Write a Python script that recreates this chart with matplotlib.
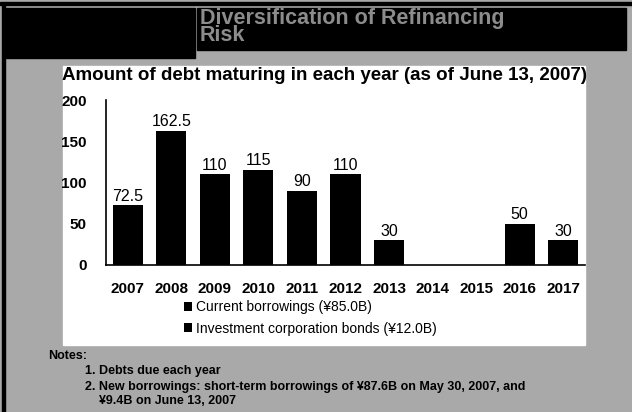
import numpy as np
import matplotlib
matplotlib.use('Agg')
import matplotlib.pyplot as plt
from matplotlib.patches import Rectangle

plt.rcParams['font.family'] = ['Liberation Sans Narrow', 'Liberation Sans', 'DejaVu Sans']

# --- dados (amount, 100 millions of yen) ---
anos = ['2007', '2008', '2009', '2010', '2011', '2012', '2013', '2014', '2015', '2016', '2017']
current_borrowings = [72.5, 162.5, 110, 115, 90, 110, 30, 0, 0, 50, 30]
investment_bonds = [0, 0, 0, 0, 0, 0, 0, 0, 0, 0, 0]
y_ticks = [0, 50, 100, 150, 200]

W, H = 632, 412

def caixa(x0, y0, x1, y1, cor):
    # retangulo em pixels (origem no topo) -> fracao da figura
    r = Rectangle((x0 / W, 1 - y1 / H), (x1 - x0) / W, (y1 - y0) / H,
                  transform=fig.transFigure, color=cor, zorder=-5)
    fig.add_artist(r)

fig = plt.figure(figsize=(W / 100, H / 100), dpi=100)
fig.patch.set_facecolor('#a9a9a9')

# cabecalho preto
caixa(0, 2, W, 5, 'black')
caixa(5, 8, 195, 58, 'black')
caixa(197, 8, 626, 50, 'black')
caixa(2, 5, 5, H, 'black')
fig.text(200 / W, 1 - 27 / H, 'Diversification of Refinancing\nRisk', color='#8c8c8c',
         fontsize=15.5, fontweight='bold', va='center', ha='left', linespacing=0.8)

# painel branco
caixa(63, 66, 585, 345, 'white')
fig.text(325 / W, 1 - 75 / H, 'Amount of debt maturing in each year (as of June 13, 2007)',
         fontsize=13.5, fontweight='bold', ha='center', va='center')

ax = fig.add_axes((106 / W, 1 - 265 / H, 479 / W, 165 / H))
ax.set_facecolor('none')
x = np.arange(len(anos))
b1 = ax.bar(x, current_borrowings, width=0.69, color='black', label='Current borrowings (¥85.0B)')
b2 = ax.bar(x, investment_bonds, width=0.69, bottom=current_borrowings, color='black',
            label='Investment corporation bonds (¥12.0B)')

for xi, v in zip(x, current_borrowings):
    if v > 0:
        ax.text(xi, v + 2, f'{v:g}', ha='center', va='bottom', fontsize=11.5)

ax.set_xlim(-0.5, len(anos) - 0.5)
ax.set_ylim(0, 200)
ax.set_yticks(y_ticks)
ax.set_xticks(x)
ax.set_xticklabels(anos)
ax.tick_params(axis='both', length=0, labelsize=11)
ax.tick_params(axis='y', pad=14)
ax.tick_params(axis='x', pad=12)
for lab in ax.get_xticklabels() + ax.get_yticklabels():
    lab.set_fontweight('bold')
ax.spines['top'].set_visible(False)
ax.spines['right'].set_visible(False)
ax.spines['left'].set_linewidth(1.2)
ax.spines['bottom'].set_linewidth(1.2)

fig.legend(handles=[b1, b2], loc='upper left', bbox_to_anchor=(184 / W, 1 - 300 / H),
           frameon=False, fontsize=10, handlelength=0.6, handleheight=0.6,
           handletextpad=0.3, labelspacing=0.55, borderaxespad=0, borderpad=0)

# notas
fig.text(48 / W, 1 - 356 / H, 'Notes:', fontsize=9, fontweight='bold', va='center')
fig.text(85 / W, 1 - 371 / H, '1. Debts due each year', fontsize=9, fontweight='bold', va='center')
fig.text(85 / W, 1 - 394 / H,
         '2. New borrowings: short-term borrowings of ¥87.6B on May 30, 2007, and\n'
         '    ¥9.4B on June 13, 2007',
         fontsize=9, fontweight='bold', va='center', linespacing=1.15)

fig.savefig('out.png', dpi=100, facecolor=fig.get_facecolor())
